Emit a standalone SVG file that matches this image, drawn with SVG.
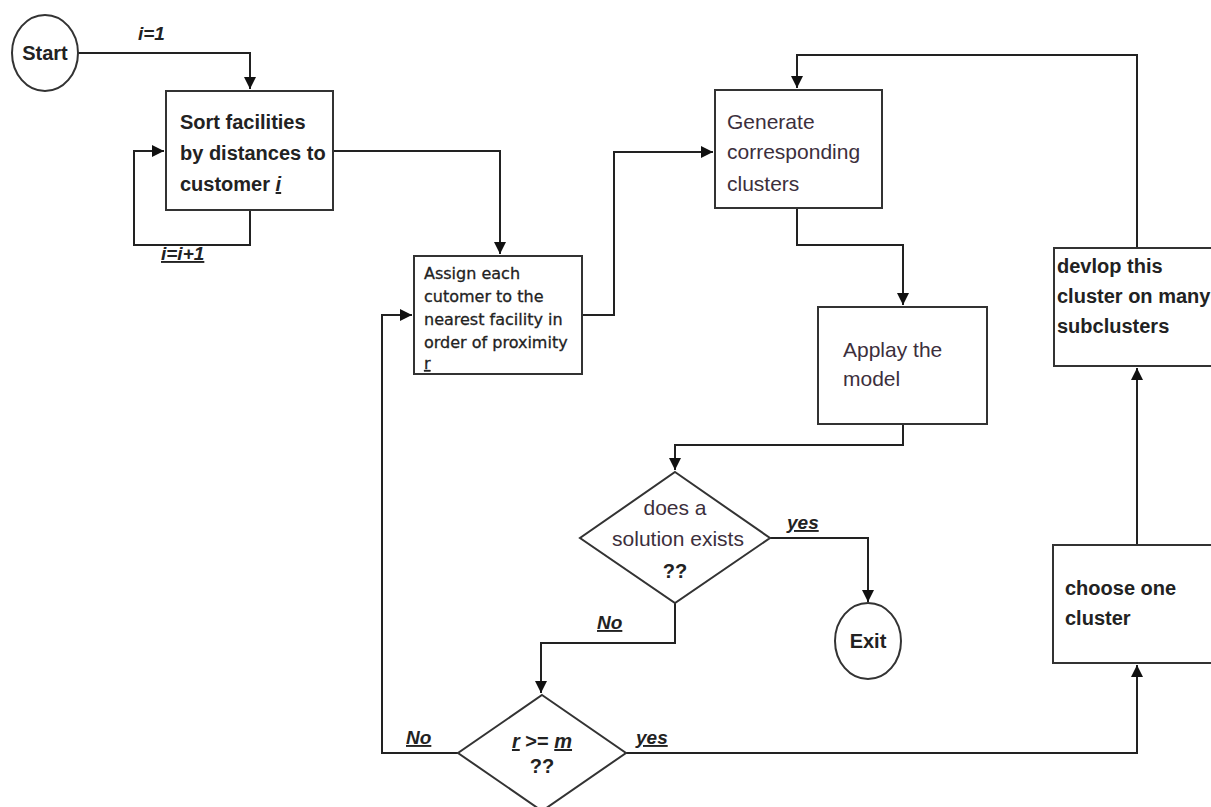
<svg xmlns="http://www.w3.org/2000/svg" width="1211" height="807" viewBox="0 0 1211 807">
<defs>
<marker id="ah" markerUnits="userSpaceOnUse" markerWidth="14" markerHeight="14" refX="12" refY="6" orient="auto">
<path d="M0,0 L12,6 L0,12 Z" fill="#111"/>
</marker>
<style>
.box{fill:#fff;stroke:#333;stroke-width:2}
.con{fill:none;stroke:#222;stroke-width:2}
.b{font-family:"Liberation Sans",Arial,sans-serif;font-weight:bold;font-size:20px;fill:#222}
.r{font-family:"Liberation Sans",Arial,sans-serif;font-size:21px;fill:#3c2f3c}
.s{font-family:"DejaVu Sans",sans-serif;font-size:16px;fill:#222;stroke:#222;stroke-width:0.3}
.lbl{font-family:"Liberation Sans",Arial,sans-serif;font-weight:bold;font-style:italic;font-size:19px;fill:#222}
.u{text-decoration:underline}
</style>
</defs>
<rect width="1211" height="807" fill="#fff"/>
<g id="connectors">
<path class="con" d="M78,53 H250 V89" marker-end="url(#ah)"/>
<path class="con" d="M250,210 V245 H134 V151 H164" marker-end="url(#ah)"/>
<path class="con" d="M333,151 H500 V254" marker-end="url(#ah)"/>
<path class="con" d="M582,315 H614 V152 H713" marker-end="url(#ah)"/>
<path class="con" d="M797,208 V245 H903 V305" marker-end="url(#ah)"/>
<path class="con" d="M903,424 V445 H675 V470" marker-end="url(#ah)"/>
<path class="con" d="M770,538 H868 V602" marker-end="url(#ah)"/>
<path class="con" d="M675,603 V643 H541 V693" marker-end="url(#ah)"/>
<path class="con" d="M458,753 H382 V315 H412" marker-end="url(#ah)"/>
<path class="con" d="M623,753 H1137 V665" marker-end="url(#ah)"/>
<path class="con" d="M1137,545 V368" marker-end="url(#ah)"/>
<path class="con" d="M1137,248 V55 H797 V88" marker-end="url(#ah)"/>
<text class="lbl" x="138" y="40">i=1</text>
<text class="lbl u" x="161" y="260">i=i+1</text>
<text class="lbl u" x="787" y="529">yes</text>
<text class="lbl u" x="597" y="629">No</text>
<text class="lbl u" x="406" y="744">No</text>
<text class="lbl u" x="636" y="744">yes</text>
</g>
<g id="start">
<ellipse cx="45" cy="53" rx="33" ry="38" fill="#fff" stroke="#333" stroke-width="2"/>
<text class="b" x="45" y="60" text-anchor="middle">Start</text>
</g>
<g id="sort">
<rect class="box" x="166" y="91" width="167" height="119"/>
<text class="b" x="180" y="129">Sort facilities</text>
<text class="b" x="180" y="160">by distances to</text>
<text class="b" x="180" y="191">customer <tspan class="u" font-style="italic">i</tspan></text>
</g>
<g id="assign">
<rect class="box" x="414" y="256" width="168" height="118"/>
<text class="s" x="424" y="279">Assign each</text>
<text class="s" x="424" y="302">cutomer to the</text>
<text class="s" x="424" y="325">nearest facility in</text>
<text class="s" x="424" y="348">order of proximity</text>
<text class="s u" x="424" y="369">r</text>
</g>
<g id="generate">
<rect class="box" x="715" y="90" width="167" height="118"/>
<text class="r" x="727" y="129">Generate</text>
<text class="r" x="727" y="159">corresponding</text>
<text class="r" x="727" y="191">clusters</text>
</g>
<g id="applay">
<rect class="box" x="818" y="307" width="169" height="117"/>
<text class="r" x="843" y="357">Applay the</text>
<text class="r" x="843" y="386">model</text>
</g>
<g id="decision1">
<polygon points="675,472 770,538 675,603 580,538" fill="#fff" stroke="#333" stroke-width="2"/>
<text class="r" x="675" y="515" text-anchor="middle" fill="#4a3f48">does a</text>
<text class="r" x="678" y="546" text-anchor="middle" fill="#4a3f48">solution exists</text>
<text class="b" x="675" y="578" text-anchor="middle" font-size="18">??</text>
</g>
<g id="exit">
<ellipse cx="868" cy="641" rx="33" ry="38" fill="#fff" stroke="#333" stroke-width="2"/>
<text class="b" x="868" y="648" text-anchor="middle">Exit</text>
</g>
<g id="decision2">
<polygon points="542,695 626,753 542,811 458,753" fill="#fff" stroke="#333" stroke-width="2"/>
<text class="b" x="542" y="748" text-anchor="middle" font-size="17"><tspan class="u" font-style="italic">r</tspan> &gt;= <tspan class="u" font-style="italic">m</tspan></text>
<text class="b" x="542" y="773" text-anchor="middle" font-size="18">??</text>
</g>
<g id="devlop">
<rect class="box" x="1054" y="248" width="170" height="118"/>
<text class="b" x="1057" y="273">devlop this</text>
<text class="b" x="1057" y="303">cluster on many</text>
<text class="b" x="1057" y="333">subclusters</text>
</g>
<g id="choose">
<rect class="box" x="1053" y="545" width="170" height="118"/>
<text class="b" x="1065" y="595">choose one</text>
<text class="b" x="1065" y="625">cluster</text>
</g>
</svg>
